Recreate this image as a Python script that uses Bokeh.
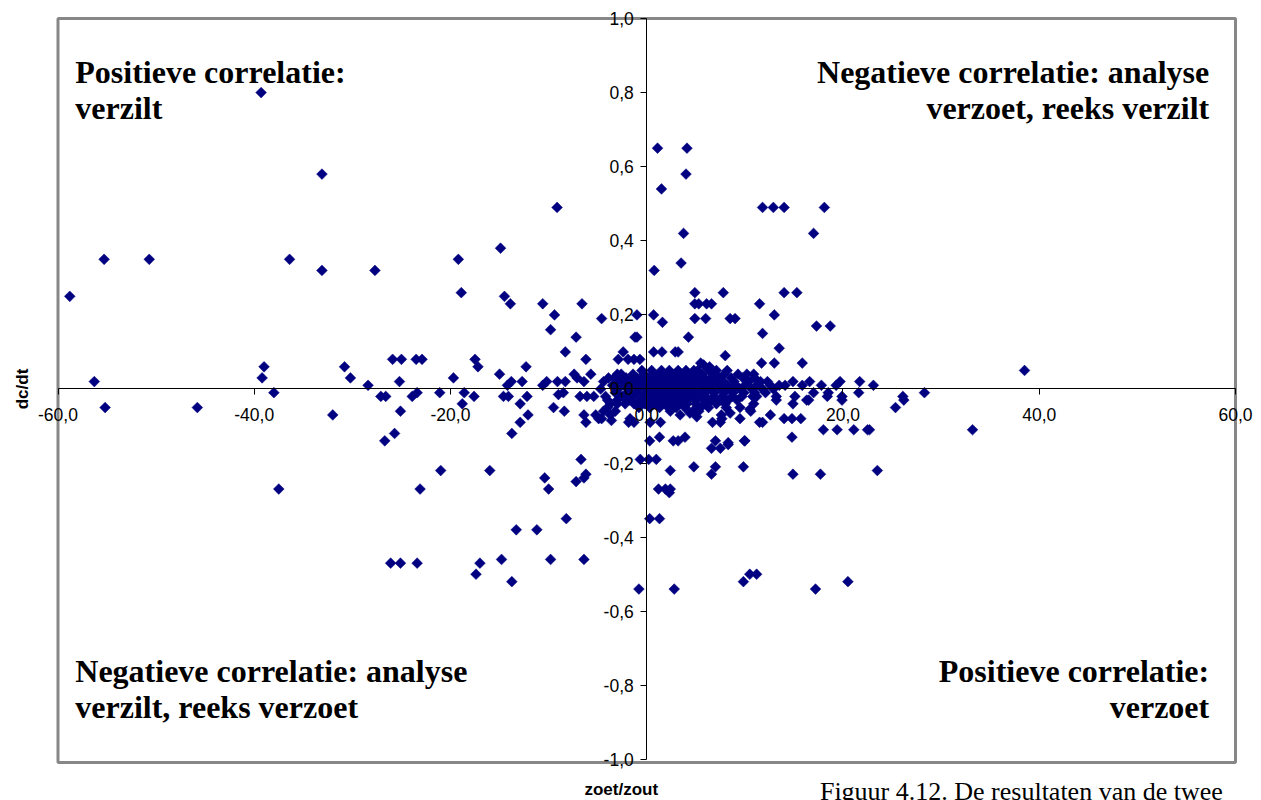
import math
from bokeh.plotting import figure
from bokeh.models import Range1d, FixedTicker, CustomJSTickFormatter, Label, ColumnDataSource, BoxAnnotation
from bokeh.embed import file_html
from bokeh.resources import INLINE

# ---------------- data ----------------
x_ticks = [-60, -40, -20, 0, 20, 40, 60]
y_ticks = [-1.0, -0.8, -0.6, -0.4, -0.2, 0.0, 0.2, 0.4, 0.6, 0.8, 1.0]

# scattered points (zoet/zout, dc/dt)
scatter_x = [
    -58.8, -55.3, -50.7, -36.4, -33.1, -33.1, -39.3, -56.3, -55.2, -45.8,
    -39.0, -39.2, -38.0, -37.5, -32.0, -27.7, -30.8, -30.2, -28.4, -25.9,
    -25.0, -25.2, -23.5, -22.9, -27.1, -26.6, -23.9, -23.4, -25.1, -26.7,
    -25.7, -21.0, -23.1, -26.1, -25.1, -23.4,
    -19.2, -18.9, -14.9, -14.5, -13.9, -10.6, -9.4, -9.8, -9.14, -6.6,
    -7.2, -4.6, -8.3, -6.2, -19.7, -17.5, -17.2, -15.0, -14.2, -13.8,
    -12.7, -12.3, -10.6, -10.2, -9.1, -8.3, -7.4, -7.1, -6.4, -5.7,
    -21.1, -18.6, -17.6, -18.8, -14.6, -14.1, -12.2, -8.5, -6.8, -6.1,
    -5.4, -16.0, -13.75, -12.9, -12.1, -12.9, -9.5, -8.4, -6.4, -6.2,
    -5.2, -4.9, -3.7, -3.6, -3.2, -4.0, -1.85, -6.7, -10.4, -10.0,
    -7.2, -6.4, -6.2, -8.2, -13.3, -11.2, -17.0, -17.4, -14.8, -13.75,
    -9.8, -6.4,
    -2.4, -2.9, -1.9, -1.3, -0.7, -1.2, -1.0, -1.0, -3.0, -3.9,
    -4.4, -4.7, -4.2, -3.7, -4.4, -4.6, -1.7, -2.7, -2.2, -9.0,
    -3.0, -4.0,
    1.1, 4.1, 4.0, 1.5, 3.75, 3.5, 0.76, 11.8, 12.9, 14.0,
    18.1, 17.0, 4.9, 7.8, 14.0, 15.3, 4.9, 5.3, 6.1, 6.6,
    11.5, 4.9, 6.0, 8.5, 9.0, 13.0, 0.7, 1.6, 17.3, 18.7,
    11.8, 4.25, 13.5, 0.7, 1.55, 2.9, 3.2, 8.0, 11.7, 13.0,
    15.85, 5.5, 6.4, 8.2, 10.9, 4.8, 5.8, 14.1, 14.9, 15.85,
    16.6, 17.8, 19.3, 19.7, 21.7, 23.1, 28.3, 26.1, 26.2, 25.35,
    21.6, 19.9, 19.9, 18.5, 18.4, 33.2, 38.5, 18.0, 19.4, 21.1,
    22.5, 22.7, 14.0, 14.8, 15.7, 14.8, 11.8, 14.9, 17.7, 23.5,
    9.95, 8.3, 7.0, 6.6, 9.85, 4.8, 7.0, 6.6, 2.4, 2.7,
    3.2, 3.9, 0.3, 1.3, -0.66, 0.2, 0.97, 1.2, 1.9, 2.3,
    2.4, 0.3, 1.3, -0.8, 2.8, 9.85, 10.5, 11.2, 17.2, 20.5,
    6.7, 7.5, 7.6, 4.7, 5.3, 3.4, 2.4, 1.4, 0.35, -1.3,
    9.5, 10.6, 10.9, 13.2, 14.9, 16.3, 17.0, 16.5, 15.1, 13.2,
    11.2, 4.4, 5.1, 7.65, 8.5, 9.5, 10.5, 11.5, 12.6, 7.5,
    8.3, 10.0,
]
scatter_y = [
    0.25, 0.35, 0.35, 0.35, 0.32, 0.58, 0.80, 0.02, -0.05, -0.05,
    0.06, 0.03, -0.01, -0.27, -0.07, 0.32, 0.06, 0.03, 0.01, 0.08,
    0.08, 0.02, 0.08, 0.08, -0.02, -0.02, -0.02, -0.01, -0.06, -0.14,
    -0.12, -0.22, -0.27, -0.47, -0.47, -0.47,
    0.35, 0.26, 0.38, 0.25, 0.23, 0.23, 0.20, 0.16, 0.49, 0.23,
    0.14, 0.19, 0.10, 0.08, 0.03, 0.08, 0.06, 0.04, 0.01, 0.02,
    0.02, 0.06, 0.01, 0.02, 0.02, 0.02, 0.04, 0.03, 0.02, 0.04,
    -0.01, -0.01, -0.02, -0.04, -0.02, -0.02, -0.02, -0.01, -0.02, -0.02,
    -0.02, -0.22, -0.12, -0.09, -0.07, -0.04, -0.05, -0.06, -0.07, -0.09,
    -0.07, -0.08, -0.07, -0.085, -0.06, -0.05, -0.09, -0.19, -0.24, -0.27,
    -0.25, -0.24, -0.23, -0.35, -0.38, -0.38, -0.47, -0.50, -0.46, -0.52,
    -0.46, -0.46,
    0.10, 0.08, 0.08, 0.08, 0.08, 0.14, 0.14, 0.20, 0.04, 0.03,
    0.02, 0.0, -0.02, -0.04, -0.06, -0.08, -0.08, -0.02, -0.04, -0.015,
    -0.04, -0.03,
    0.65, 0.65, 0.58, 0.54, 0.42, 0.34, 0.32, 0.49, 0.49, 0.49,
    0.49, 0.42, 0.26, 0.26, 0.26, 0.26, 0.23, 0.23, 0.23, 0.23,
    0.23, 0.19, 0.19, 0.19, 0.19, 0.20, 0.20, 0.18, 0.17, 0.17,
    0.15, 0.14, 0.11, 0.10, 0.10, 0.10, 0.10, 0.09, 0.07, 0.07,
    0.07, 0.07, 0.06, 0.05, 0.04, 0.05, 0.065, 0.01, 0.02, 0.01,
    0.02, 0.01, 0.01, 0.02, 0.02, 0.01, -0.01, -0.02, -0.03, -0.05,
    -0.01, -0.02, -0.03, -0.01, -0.02, -0.11, 0.05, -0.11, -0.11, -0.11,
    -0.11, -0.11, -0.08, -0.08, -0.08, -0.13, -0.09, -0.23, -0.23, -0.22,
    -0.14, -0.15, -0.14, -0.16, -0.21, -0.21, -0.21, -0.23, -0.22, -0.14,
    -0.14, -0.13, -0.14, -0.13, -0.19, -0.19, -0.19, -0.27, -0.27, -0.28,
    -0.27, -0.35, -0.35, -0.54, -0.54, -0.52, -0.50, -0.50, -0.54, -0.52,
    -0.09, -0.09, -0.07, -0.06, -0.06, -0.07, -0.06, -0.09, -0.09, -0.09,
    -0.05, -0.06, -0.04, -0.03, -0.04, -0.03, -0.01, -0.03, -0.02, -0.02,
    -0.02, -0.065, -0.075, -0.08, -0.065, -0.08, -0.055, -0.09, -0.07, -0.16,
    -0.145, -0.14,
]

# dense cluster around the origin
cluster_x = [
    -0.5, 0.5, 1.5, 2.3, 3.2, 4.0, 5.2, 6.3, 7.1,
    -2.6, -1.4, -0.3, 0.6, 1.2, 2.0, 2.8, 3.5, 4.4, 5.6, 6.8, 7.9, 9.3, 10.2,
    -3.3, -2.1, -1.0, 0.0, 0.4, 0.9, 1.6, 2.2, 2.9, 3.7, 4.2, 5.0, 5.9, 6.6, 7.4, 8.6, 9.8, 11.0,
    -2.8, -1.7, -0.6, 0.2, 0.7, 1.1, 1.8, 2.5, 3.1, 3.9, 4.6, 5.3, 6.1, 7.0, 7.8, 8.9, 10.4, 11.6, 12.3,
    -3.5, -2.3, -1.2, -0.2, 0.3, 0.8, 1.4, 2.0, 2.7, 3.4, 4.1, 4.8, 5.5, 6.4, 7.3, 8.2, 9.1, 10.0, 11.2, 12.6, 13.5,
    -2.9, -1.9, -0.8, 0.1, 0.6, 1.2, 1.9, 2.6, 3.3, 4.0, 4.7, 5.7, 6.6, 7.6, 8.5, 9.5, 10.7, 11.8, 12.9,
    -3.2, -2.0, -1.1, -0.1, 0.5, 1.0, 1.7, 2.4, 3.0, 3.8, 4.5, 5.2, 6.0, 6.9, 7.9, 8.8, 9.9, 11.0, 12.1,
    -2.5, -1.4, -0.4, 0.3, 0.9, 1.5, 2.2, 2.9, 3.6, 4.3, 5.1, 5.9, 6.8, 7.7, 8.7, 9.7, 10.8,
    -3.0, -1.8, -0.7, 0.2, 1.0, 1.8, 2.6, 3.4, 4.2, 5.0, 5.8, 6.6, 7.5, 8.3, 9.2,
    -1.3, -0.2, 0.7, 1.6, 2.5, 3.3, 4.1, 5.0, 6.0, 7.1, 8.0,
    -0.8, 0.3, 1.3, 2.2, 3.0, 3.9, 5.5, 6.3, 8.1,
]
cluster_y = (
    [0.05] * 9 + [0.04] * 14 + [0.03] * 18 + [0.02] * 19 + [0.01] * 21 +
    [0.0] * 19 + [-0.01] * 19 + [-0.02] * 17 + [-0.03] * 15 + [-0.04] * 11 +
    [-0.05] * 9
)

# ---------------- figure ----------------
# the frame fills the whole canvas; the chart area (-60..60, -1..1) sits inside it
p = figure(width=1261, height=800,
           x_range=Range1d(-65.86, 62.65), y_range=Range1d(-1.1107, 1.0486),
           output_backend="svg", toolbar_location=None,
           min_border_left=0, min_border_right=0, min_border_top=0, min_border_bottom=0)
p.background_fill_color = "white"
p.border_fill_color = "white"
p.outline_line_color = None
p.grid.visible = False

# grey plot-area border
p.add_layout(BoxAnnotation(left=-60, right=60, bottom=-1.008, top=1, fill_alpha=0,
                           line_color="#878787", line_alpha=1.0, line_width=3,
                           level="underlay"))

src = ColumnDataSource(dict(x=scatter_x + cluster_x, y=scatter_y + cluster_y))
p.scatter("x", "y", source=src, marker="square", angle=math.pi / 4, size=7.6,
          fill_color="#000080", line_color="#000080", line_width=0.5)

fmt = CustomJSTickFormatter(code="return tick.toFixed(1).replace('.', ',');")
for ax, ticks, bnd in ((p.xaxis, x_ticks, (-60, 60)), (p.yaxis, y_ticks, (-1, 1))):
    ax.fixed_location = 0
    ax.bounds = bnd
    ax.ticker = FixedTicker(ticks=ticks)
    ax.formatter = fmt
    ax.axis_line_color = "black"
    ax.axis_line_width = 1
    ax.major_tick_line_color = "black"
    ax.major_tick_in = 0
    ax.major_tick_out = 6
    ax.minor_tick_line_color = None
    ax.major_label_text_font = "Liberation Sans"
    ax.major_label_text_font_size = "17.5px"
    ax.major_label_text_color = "black"
p.xaxis.major_label_standoff = 13
p.yaxis.major_label_standoff = 7

serif = "Liberation Serif"
sans = "Liberation Sans"
qx_left, qx_right = -58.24, 57.32
quadrant = [
    ("Positieve correlatie:", qx_left, 0.855, "left"),
    ("verzilt", qx_left, 0.758, "left"),
    ("Negatieve correlatie: analyse", qx_right, 0.855, "right"),
    ("verzoet, reeks verzilt", qx_right, 0.758, "right"),
    ("Negatieve correlatie: analyse", qx_left, -0.761, "left"),
    ("verzilt, reeks verzoet", qx_left, -0.858, "left"),
    ("Positieve correlatie:", qx_right, -0.761, "right"),
    ("verzoet", qx_right, -0.858, "right"),
]
for t, x, y, al in quadrant:
    p.add_layout(Label(x=x, y=y, text=t, text_font=serif, text_font_size="32px",
                       text_font_style="bold", text_align=al, text_baseline="alphabetic",
                       text_color="black"))

p.add_layout(Label(x=-63.6, y=0.0, text="dc/dt", angle=math.pi / 2, text_font=sans,
                   text_font_size="17px", text_font_style="bold", text_align="center",
                   text_baseline="middle", text_color="black"))
p.add_layout(Label(x=-2.6, y=-1.080, text="zoet/zout", text_font=sans,
                   text_font_size="17px", text_font_style="bold", text_align="center",
                   text_baseline="alphabetic", text_color="black"))
p.add_layout(Label(x=17.65, y=-1.087, text="Figuur 4.12. De resultaten van de twee",
                   text_font=serif, text_font_size="26px", text_align="left",
                   text_baseline="alphabetic", text_color="black"))

open("out.html", "w").write(file_html(p, INLINE))
